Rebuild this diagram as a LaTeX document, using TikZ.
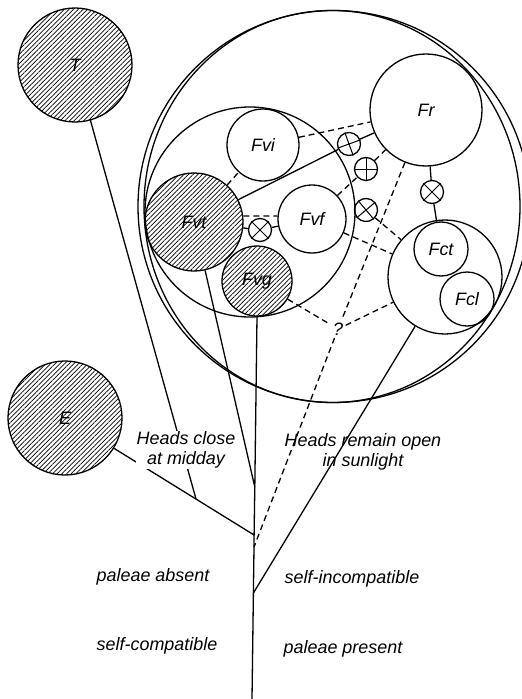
\documentclass[tikz,border=0pt]{standalone}
\usepackage{fontspec}
\setmainfont{Liberation Sans}
\usetikzlibrary{patterns.meta,shapes.geometric}
\begin{document}
\begin{tikzpicture}[x=1bp,y=-1bp,line width=1.3bp,
  lbl/.style={font=\itshape\fontsize{18}{20}\selectfont},
  circ/.style={draw,circle,inner sep=0pt,lbl},
  hatched/.style={circ,pattern={Lines[angle=45,distance=3.3bp,line width=0.7bp]}},
  ring/.style={draw,circle,inner sep=0pt,minimum size=23bp},
  dconn/.style={dash pattern=on 6bp off 4bp},
  txt/.style={lbl,align=center,inner sep=1bp}]
\useasboundingbox (0,0) rectangle (522,699);

% outer boundaries of group F
\node[circ,minimum size=392bp] (F) at (334,206.5) {};
\node[draw,ellipse,inner sep=0pt,minimum width=376bp,minimum height=392bp] (Fin) at (332,206.5) {};

% taxa circles
\node[hatched,minimum size=114bp] (T) at (75,65) {T};
\node[hatched,minimum size=114bp] (E) at (65,418) {E};
\node[circ,minimum size=210bp] (Fv) at (250,212) {};
\node[circ,minimum size=112bp] (Fr) at (426,110) {Fr};
\node[circ,minimum size=72bp] (Fvi) at (263,145) {Fvi};
\node[hatched,minimum size=98bp] (Fvt) at (194,222) {Fvt};
\node[circ,minimum size=68bp] (Fvf) at (312,219) {Fvf};
\node[hatched,minimum size=70bp] (Fvg) at (257,281) {Fvg};
\node[circ,minimum size=114bp] (Fc) at (445,277) {};
\node[circ,minimum size=54bp] (Fct) at (441,249) {Fct};
\node[circ,minimum size=54bp] (Fcl) at (467,299) {Fcl};

% hybrid rings
\node[ring,rotate=20] (c1) at (349,144) {};
\node[ring] (c2) at (366,169) {};
\node[ring,rotate=40] (c3) at (366,210) {};
\node[ring,rotate=45] (c4) at (432,192) {};
\node[ring,rotate=45] (c5) at (260,230) {};
\foreach \c in {c1,c2,c3,c4,c5}
  \draw[line width=1bp] (\c.north) -- (\c.south) (\c.east) -- (\c.west);

\node[lbl,inner sep=2bp] (q) at (338,329) {?};

% stem and branch points
\coordinate (jt) at (254.8,487);
\coordinate (je) at (254.1,535);
\coordinate (jd) at (254,547);
\coordinate (jc) at (253.4,593);
\coordinate (base) at (252,699);
\coordinate (jte) at (196,499);

\draw (Fvg.south) -- (jt) -- (je) -- (jd) -- (jc) -- (base);
\draw (Fvt) -- (jt);
\draw (T) -- (jte);
\draw (E) -- (je);
\draw (Fc) -- (jc);

% solid links through hybrids
\draw (Fvt) -- (c1) -- (Fr);
\draw (Fr) -- (c4) -- (Fct);

% dashed links
\draw[dconn] (Fr) -- (q) -- (jd);
\draw[dconn] (Fvi) -- (Fr);
\draw[dconn] (Fvt) -- (Fvi);
\draw[dconn] (Fvf) -- (c2) -- (Fr);
\draw[dconn] (Fvt.7) -- (Fvf.175);
\draw[dconn] (Fvt) -- (c5) -- (Fvf);
\draw[dconn] (Fvf) -- (Fc);
\draw[dconn] (c3) -- (Fc);
\draw[dconn] (Fvg) -- (q) -- (Fc);

% character labels
\node[txt,fill=white] (hc) at (186,450) {Heads close\\at midday};
\node[txt] (ho) at (363,452) {Heads remain open\\in sunlight};
\node[txt] (pa) at (153,577) {paleae absent};
\node[txt] (si) at (352,579) {self-incompatible};
\node[txt] (sc) at (157,646) {self-compatible};
\node[txt] (pp) at (343,649) {paleae present};
\end{tikzpicture}
\end{document}
